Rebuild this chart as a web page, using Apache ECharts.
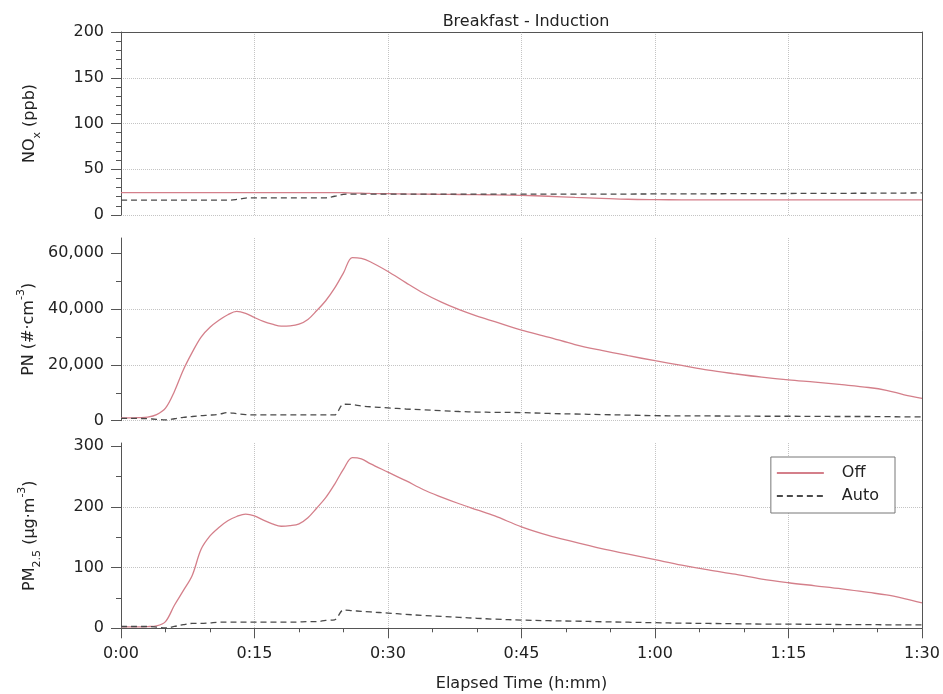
<!DOCTYPE html>
<html>
<head>
<meta charset="utf-8">
<title>Breakfast - Induction</title>
<script src="https://cdn.jsdelivr.net/npm/echarts@6/dist/echarts.min.js"></script>
<style>
  html, body { margin: 0; padding: 0; background: #ffffff; }
  #chart { width: 943px; height: 694px; }
</style>
</head>
<body>
<div id="chart"></div>
<script>
// Elapsed time in minutes
const minutes = [0, 1, 2, 3, 4, 5, 6, 7, 8, 9, 10, 11, 12, 13, 14, 15, 16, 17, 18, 19, 20,
  21, 22, 23, 24, 25, 26, 27, 28, 30, 32, 34, 36, 38, 40, 42, 45, 48, 51, 54, 57,
  60, 63, 66, 69, 72, 75, 78, 81, 84, 86, 88, 90];

// NOx (ppb)
const noxOff = [24.5, 24.5, 24.5, 24.5, 24.5, 24.5, 24.5, 24.5, 24.5, 24.5, 24.5,
  24.5, 24.5, 24.5, 24.5, 24.5, 24.5, 24.5, 24.5, 24.5, 24.5,
  24.5, 24.5, 24.5, 24.5, 24.3, 24.0, 23.8, 23.6, 23.3, 23.0, 22.8, 22.6, 22.4, 22.2, 22.0, 21.5, 20.5, 19.3, 18.2, 17.2,
  16.8, 16.6, 16.5, 16.5, 16.5, 16.5, 16.5, 16.5, 16.5, 16.5, 16.5, 16.5];
const noxAuto = [16.2, 16.2, 16.2, 16.2, 16.2, 16.2, 16.2, 16.2, 16.2, 16.2, 16.2,
  16.2, 16.2, 17.0, 18.5, 18.8, 18.8, 18.8, 18.8, 18.8, 18.8,
  18.8, 18.8, 18.8, 20.5, 22.5, 22.8, 22.8, 22.8, 22.8, 22.8, 22.8, 22.8, 22.8, 22.8, 22.8, 22.8, 22.8, 22.8, 22.8, 22.9,
  23.0, 23.1, 23.2, 23.3, 23.4, 23.5, 23.6, 23.7, 23.8, 23.9, 24.0, 24.2];

// Particle number (#/cm3)
const pnOff = [1000, 1000, 1100, 1300, 2200, 4500, 10500, 18200, 24500, 30000, 33500,
  36000, 38000, 39200, 38500, 37000, 35600, 34600, 33900, 34000, 34600,
  36300, 39500, 43000, 47500, 53000, 58500, 58200, 57000, 53500, 49500, 45700, 42500, 39800, 37500, 35500, 32500, 30000, 27300, 25200, 23300,
  21500, 19800, 18100, 16800, 15600, 14600, 13800, 12900, 11900, 10900, 9300, 8000];
const pnAuto = [800, 800, 800, 700, 500, 300, 700, 1200, 1500, 1800, 2000,
  2300, 2900, 2500, 2200, 2100, 2100, 2100, 2100, 2100, 2100,
  2100, 2100, 2100, 2100, 5900, 5800, 5300, 5000, 4600, 4200, 3900, 3600, 3300, 3100, 3000, 2900, 2600, 2400, 2200, 2000,
  1800, 1750, 1700, 1650, 1600, 1600, 1550, 1500, 1500, 1450, 1400, 1400];

// PM2.5 (ug/m3)
const pmOff = [2.5, 2.5, 2.5, 2.8, 4, 11, 38, 62, 87, 130, 152,
  166, 177, 184, 188, 185, 178, 172, 168, 169, 172,
  182, 198, 215, 237, 262, 281, 279, 271, 257, 243, 228, 216, 205, 195, 185, 167, 153, 142, 131, 122,
  113, 104, 96, 89, 81, 75, 70, 65, 59, 55, 49, 42];
const pmAuto = [3, 3, 3, 3, 2, 0.5, 3, 6, 8, 8, 9,
  10, 10, 10, 10, 10, 10, 10, 10, 10, 10.5,
  11, 11, 13, 14, 30, 29, 28, 27, 25, 23, 21, 19.5, 18, 16.5, 15, 13.6, 12.5, 11.8, 10.8, 10,
  9.2, 8.5, 8, 7.5, 7, 6.8, 6.5, 6.2, 6, 5.8, 5.6, 5.5];

// Tick positions
const timeTicks = [0, 15, 30, 45, 60, 75, 90];
const noxTicks = [0, 50, 100, 150, 200];
const pnTicks = [0, 20000, 40000, 60000];
const pnMinorTicks = [10000, 30000, 50000];
const pmTicks = [0, 100, 200, 300];
const pmMinorTicks = [50, 150, 250];

const FONT = 'DejaVu Sans';
const AXIS_COLOR = '#555555';
const TEXT_COLOR = '#222222';
const OFF_COLOR = '#d47f8a';
const AUTO_COLOR = '#4a4a4a';
const GRID_LINE = { show: true, lineStyle: { type: 'dotted', color: '#c4c4c4', width: 1 } };

const pairs = (ys) => minutes.map((t, i) => [t, ys[i]]);
const timeLabel = (v) => Math.floor(v / 60) + ':' + String(Math.round(v % 60)).padStart(2, '0');
const thousands = (v) => String(v).replace(/\B(?=(\d{3})+(?!\d))/g, ',');

const nameRich = {
  b: { fontFamily: FONT, fontSize: 16, color: TEXT_COLOR, lineHeight: 26 },
  sub: { fontFamily: FONT, fontSize: 11, color: TEXT_COLOR, verticalAlign: 'bottom' },
  sup: { fontFamily: FONT, fontSize: 11, color: TEXT_COLOR, verticalAlign: 'top' }
};

const grids = [
  { left: 121, right: 21, top: 32, height: 183 },
  { left: 121, right: 21, top: 238, height: 182.7 },
  { left: 121, right: 21, top: 443, height: 185.3 },
  { left: 121, right: 21, top: 32, height: 596.3 } // outer frame
];

function timeAxis(gridIndex, withLabels) {
  return {
    type: 'value', gridIndex, min: 0, max: 90, interval: 15,
    axisLine: { show: withLabels, onZero: false, lineStyle: { color: AXIS_COLOR, width: 1 } },
    axisTick: { show: withLabels, length: 10, lineStyle: { color: AXIS_COLOR } },
    minorTick: { show: withLabels, splitNumber: 3, length: 4, lineStyle: { color: AXIS_COLOR } },
    axisLabel: {
      show: withLabels, margin: 18, fontFamily: FONT, fontSize: 16, color: TEXT_COLOR,
      formatter: timeLabel, customValues: timeTicks
    },
    splitLine: GRID_LINE,
    name: withLabels ? 'Elapsed Time (h:mm)' : '',
    nameLocation: 'middle', nameGap: 48,
    nameTextStyle: { fontFamily: FONT, fontSize: 16, color: TEXT_COLOR }
  };
}

function valueAxis(gridIndex, max, interval, ticks, name, fmt) {
  return {
    type: 'value', gridIndex, position: 'left', min: 0, max, interval,
    axisLine: { show: true, onZero: false, lineStyle: { color: AXIS_COLOR, width: 1 } },
    axisTick: { show: true, length: 10, customValues: ticks, lineStyle: { color: AXIS_COLOR } },
    axisLabel: { margin: 17, fontFamily: FONT, fontSize: 16, color: TEXT_COLOR, customValues: ticks, formatter: fmt },
    splitLine: Object.assign({ showMaxLine: max === ticks[ticks.length - 1] }, GRID_LINE),
    name, nameLocation: 'middle', nameRotate: 90, nameGap: 78,
    nameTextStyle: { rich: nameRich }
  };
}

function minorAxis(gridIndex, max, ticks) {
  return {
    type: 'value', gridIndex, position: 'left', min: 0, max,
    axisLine: { show: false },
    axisTick: { show: true, length: 5, customValues: ticks, lineStyle: { color: AXIS_COLOR } },
    axisLabel: { show: false },
    splitLine: { show: false }
  };
}

const noxAxis = valueAxis(0, 200, 50, noxTicks, '{b|NO}{sub|x}{b| (ppb)}', (v) => String(v));
noxAxis.minorTick = { show: true, splitNumber: 5, length: 5, lineStyle: { color: AXIS_COLOR } };

const lineSeries = (name, xIdx, yIdx, ys, color, dashed) => ({
  name, type: 'line', xAxisIndex: xIdx, yAxisIndex: yIdx, data: pairs(ys),
  showSymbol: false, symbol: 'none', smooth: 0.35, silent: true,
  lineStyle: { color, width: 1.3, type: dashed ? [6, 4] : 'solid' },
  itemStyle: { color }
});

const option = {
  animation: false,
  backgroundColor: '#ffffff',
  title: {
    text: 'Breakfast - Induction', left: 521, top: 9, textAlign: 'center',
    textStyle: { fontFamily: FONT, fontSize: 16, fontWeight: 'normal', color: TEXT_COLOR }
  },
  legend: {
    data: ['Off', 'Auto'], orient: 'vertical', right: 48, top: 457,
    itemWidth: 47, itemHeight: 14, itemGap: 7, padding: [8, 16, 9, 5],
    borderColor: '#777777', borderWidth: 1, backgroundColor: '#ffffff',
    itemStyle: { opacity: 0 },
    textStyle: { fontFamily: FONT, fontSize: 16, color: TEXT_COLOR, padding: [0, 0, 0, 13] },
    selectedMode: false
  },
  grid: grids,
  xAxis: [
    timeAxis(0, false),
    timeAxis(1, false),
    timeAxis(2, true),
    {
      type: 'value', gridIndex: 3, position: 'top', min: 0, max: 90,
      axisLine: { show: true, onZero: false, lineStyle: { color: AXIS_COLOR, width: 1 } },
      axisTick: { show: false }, axisLabel: { show: false }, splitLine: { show: false }
    }
  ],
  yAxis: [
    noxAxis,
    valueAxis(1, 65500, 20000, pnTicks, '{b|PN (#·cm}{sup|-3}{b|)}', thousands),
    valueAxis(2, 305, 100, pmTicks, '{b|PM}{sub|2.5}{b| (µg·m}{sup|-3}{b|)}', (v) => String(v)),
    {
      type: 'value', gridIndex: 3, position: 'right', min: 0, max: 1,
      axisLine: { show: true, onZero: false, lineStyle: { color: AXIS_COLOR, width: 1 } },
      axisTick: { show: false }, axisLabel: { show: false }, splitLine: { show: false }
    },
    minorAxis(1, 65500, pnMinorTicks),
    minorAxis(2, 305, pmMinorTicks)
  ],
  series: [
    lineSeries('Off', 0, 0, noxOff, OFF_COLOR, false),
    lineSeries('Auto', 0, 0, noxAuto, AUTO_COLOR, true),
    lineSeries('Off', 1, 1, pnOff, OFF_COLOR, false),
    lineSeries('Auto', 1, 1, pnAuto, AUTO_COLOR, true),
    lineSeries('Off', 2, 2, pmOff, OFF_COLOR, false),
    lineSeries('Auto', 2, 2, pmAuto, AUTO_COLOR, true)
  ]
};

const chart = echarts.init(document.getElementById('chart'), null, { renderer: 'canvas' });
chart.setOption(option);
</script>
</body>
</html>
